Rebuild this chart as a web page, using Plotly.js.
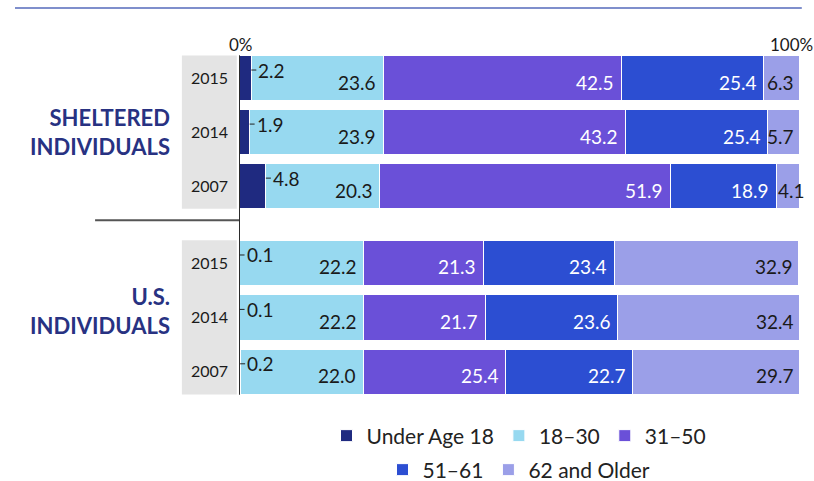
<!DOCTYPE html>
<html>
<head>
<meta charset="utf-8">
<script src="https://cdn.plot.ly/plotly-3.0.1.min.js"></script>
<style>
  html, body { margin: 0; padding: 0; background: #ffffff; }
  #chart { width: 814px; height: 481px; }
</style>
</head>
<body>
<div id="chart"></div>
<script>
// ---- Data ----
const years = ['2015', '2014', '2007'];
const ageGroups = ['Under Age 18', '18–30', '31–50', '51–61', '62 and Older'];
const groupLabels = ['SHELTERED<br>INDIVIDUALS', 'U.S.<br>INDIVIDUALS'];

const shelteredUnder18 = [2.2, 1.9, 4.8];
const sheltered18to30 = [23.6, 23.9, 20.3];
const sheltered31to50 = [42.5, 43.2, 51.9];
const sheltered51to61 = [25.4, 25.4, 18.9];
const sheltered62plus = [6.3, 5.7, 4.1];

const usUnder18 = [0.1, 0.1, 0.2];
const us18to30 = [22.2, 22.2, 22.0];
const us31to50 = [21.3, 21.7, 25.4];
const us51to61 = [23.4, 23.6, 22.7];
const us62plus = [32.9, 32.4, 29.7];

const xTickVals = [0, 100];
const xTickText = ['0%', '100%'];

// ---- Styles ----
const barColors = ['#1f2a80', '#97d9f0', '#6a50d8', '#2c4ed2', '#9b9fe8'];
const labelColors = ['#1a1a1a', '#1a1a1a', '#ffffff', '#ffffff', '#1a1a1a'];
const FONT = 'Lato, "Open Sans", sans-serif';
const navy = '#283282';

const sheltered = [shelteredUnder18, sheltered18to30, sheltered31to50, sheltered51to61, sheltered62plus];
const us = [usUnder18, us18to30, us31to50, us51to61, us62plus];
const groups = [
  { series: sheltered, yaxis: 'y', labelShift: 0 },
  { series: us, yaxis: 'y2', labelShift: 6 }
];

const traces = [];
groups.forEach((g, gi) => {
  g.series.forEach((vals, k) => {
    traces.push({
      type: 'bar',
      orientation: 'h',
      name: ageGroups[k],
      x: vals.slice(),
      y: years.slice(),
      yaxis: g.yaxis,
      xaxis: 'x',
      marker: { color: barColors[k], line: { color: '#ffffff', width: 1 } },
      legendgroup: ageGroups[k],
      showlegend: gi === 0,
      legend: k < 3 ? 'legend' : 'legend2',
      hoverinfo: 'skip'
    });
  });
});

const annotations = [];
groups.forEach((g, gi) => {
  const yref = g.yaxis;
  years.forEach((yr, i) => {
    let cum = 0;
    g.series.forEach((vals, k) => {
      const v = vals[i];
      const start = cum;
      cum += v;
      if (k === 0) {
        annotations.push({
          x: v, y: i, xref: 'x', yref: yref,
          text: v.toFixed(1),
          showarrow: true, arrowhead: 0, arrowwidth: 1, arrowcolor: '#222222',
          ax: 5, ay: 0, xanchor: 'left', yshift: 8,
          font: { family: FONT, size: 19, color: '#1a1a1a' }
        });
      } else {
        const last = k === g.series.length - 1;
        const narrow = v < 5;
        annotations.push({
          x: narrow ? start : Math.min(cum, 100), y: i, xref: 'x', yref: yref,
          text: v.toFixed(1),
          showarrow: false, xanchor: narrow ? 'left' : 'right', yanchor: 'middle',
          xshift: narrow ? 0 : (last ? -3 : -5), yshift: -4,
          font: { family: FONT, size: 19, color: labelColors[k] }
        });
      }
    });
  });
  annotations.push({
    x: -0.1196, xref: 'paper', y: 1, yref: yref,
    text: '<b>' + groupLabels[gi] + '</b>',
    showarrow: false, xanchor: 'right', yanchor: 'middle', align: 'right',
    yshift: g.labelShift,
    font: { family: FONT, size: 22, color: navy }
  });
});

xTickVals.forEach((v, i) => {
  annotations.push({
    x: v, xref: 'x', y: 1.02, yref: 'paper',
    text: xTickText[i], showarrow: false, xanchor: 'center', yanchor: 'middle',
    xshift: i === 1 ? -8 : 2,
    font: { family: FONT, size: 17, color: '#1a1a1a' }
  });
});

const shapes = [
  { type: 'line', xref: 'paper', yref: 'paper', x0: -0.4, x1: 1.005, y0: 1.1236, y1: 1.1236,
    line: { color: '#7f8fcc', width: 2 } },
  { type: 'rect', xref: 'paper', yref: 'y domain', x0: -0.102, x1: -0.004, y0: 0.028, y1: 0.972,
    fillcolor: '#e4e4e4', line: { width: 0 }, layer: 'below' },
  { type: 'rect', xref: 'paper', yref: 'y2 domain', x0: -0.102, x1: -0.004, y0: 0.028, y1: 0.972,
    fillcolor: '#e4e4e4', line: { width: 0 }, layer: 'below' },
  { type: 'line', xref: 'x', yref: 'paper', x0: 0, x1: 0, y0: 0.012, y1: 0.988,
    line: { color: '#2b2b2b', width: 2 }, layer: 'above' },
  { type: 'line', xref: 'paper', yref: 'paper', x0: -0.257, x1: 0, y0: 0.514, y1: 0.514,
    line: { color: '#555555', width: 2 } }
];

function yAxis(domain) {
  return {
    type: 'category',
    categoryorder: 'array',
    categoryarray: years.slice(),
    range: [2.5, -0.5],
    autorange: false,
    domain: domain,
    anchor: 'x',
    showgrid: false, zeroline: false, showline: false,
    ticks: '',
    ticklabelstandoff: 10,
    tickfont: { family: FONT, size: 16, color: '#1a1a1a' },
    fixedrange: true
  };
}

function legendAt(y) {
  return {
    orientation: 'h',
    xref: 'paper', x: 0.5, xanchor: 'center',
    yref: 'container', y: y, yanchor: 'middle',
    font: { family: FONT, size: 21, color: '#222222' },
    bgcolor: 'rgba(0,0,0,0)',
    traceorder: 'normal'
  };
}

const layout = {
  width: 814, height: 481,
  margin: { l: 239, r: 15, t: 51, b: 82, pad: 0 },
  paper_bgcolor: '#ffffff', plot_bgcolor: '#ffffff',
  barmode: 'stack',
  bargap: 0.167,
  font: { family: FONT },
  xaxis: { range: [0, 100], autorange: false, showgrid: false, zeroline: false, showline: false,
           showticklabels: false, ticks: '', fixedrange: true, anchor: 'y2' },
  yaxis: yAxis([0.534, 1]),
  yaxis2: yAxis([0, 0.469]),
  legend: legendAt(0.0936),
  legend2: legendAt(0.0229),
  showlegend: true,
  shapes: shapes,
  annotations: annotations
};

Plotly.newPlot('chart', traces, layout, { staticPlot: true, displayModeBar: false });
</script>
</body>
</html>
